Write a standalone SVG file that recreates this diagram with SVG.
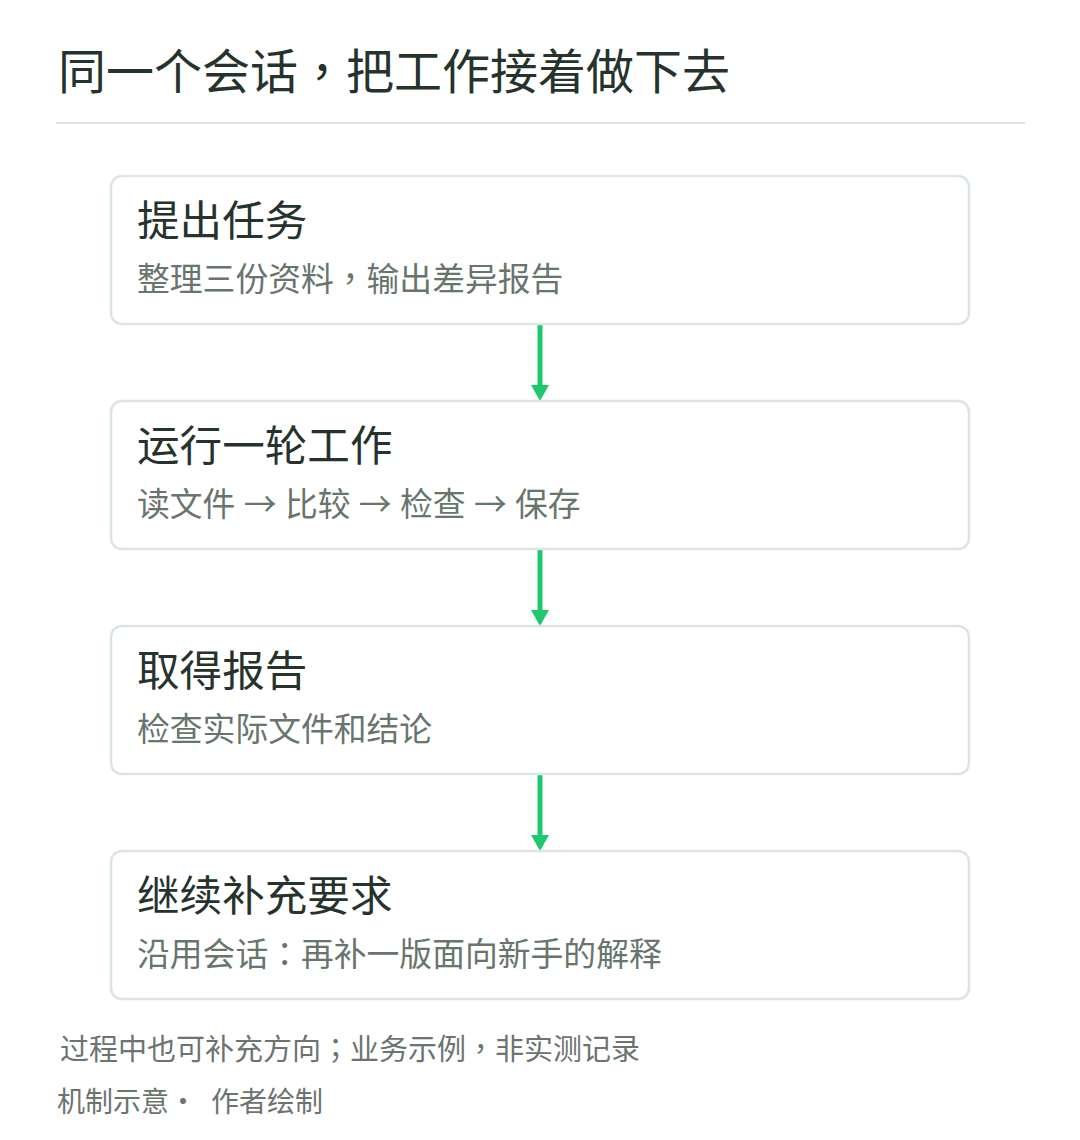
<svg xmlns="http://www.w3.org/2000/svg" width="1080" height="1140" viewBox="0 0 1080 1140">
<defs>
<style>
.cjk{font-family:"Noto Sans CJK SC","Noto Sans",sans-serif;}
.p{font-family:"Noto Sans CJK TC","Noto Sans CJK SC",sans-serif;}
.title{font-size:48px;fill:#26332d;}
.box{fill:#ffffff;stroke:#dbe5e1;stroke-width:2.5;}
.h{font-size:42.6px;fill:#26332d;}
.s{font-size:32.8px;fill:#68756d;}
.f{font-size:29px;fill:#6b746f;}
.conn{stroke:#1ec86e;stroke-width:5;fill:none;}
.head{fill:#1ec86e;}
</style>
</defs>
<rect width="1080" height="1140" fill="#ffffff"/>
<text class="cjk title" x="58" y="89">同一个会话<tspan class="p">，</tspan>把工作接着做下去</text>
<line x1="56" y1="123" x2="1025" y2="123" stroke="#dde5e2" stroke-width="2"/>
<g id="connectors">
<line class="conn" x1="540" y1="325" x2="540" y2="386"/>
<path class="head" d="M531,385 L549,385 L540,401 Z"/>
<line class="conn" x1="540" y1="550" x2="540" y2="611"/>
<path class="head" d="M531,610 L549,610 L540,626 Z"/>
<line class="conn" x1="540" y1="775" x2="540" y2="836"/>
<path class="head" d="M531,835 L549,835 L540,851 Z"/>
</g>
<g id="node1">
<rect class="box" x="111" y="176" width="858" height="148" rx="11"/>
<text class="cjk h" x="137" y="236">提出任务</text>
<text class="cjk s" x="137" y="291">整理三份资料<tspan class="p">，</tspan>输出差异报告</text>
</g>
<g id="node2">
<rect class="box" x="111" y="401" width="858" height="148" rx="11"/>
<text class="cjk h" x="137" y="461">运行一轮工作</text>
<text class="cjk s" x="137" y="516" word-spacing="1">读文件 → 比较 → 检查 → 保存</text>
</g>
<g id="node3">
<rect class="box" x="111" y="626" width="858" height="148" rx="11"/>
<text class="cjk h" x="137" y="686">取得报告</text>
<text class="cjk s" x="137" y="741">检查实际文件和结论</text>
</g>
<g id="node4">
<rect class="box" x="111" y="851" width="858" height="148" rx="11"/>
<text class="cjk h" x="137" y="911">继续补充要求</text>
<text class="cjk s" x="137" y="966">沿用会话<tspan class="p">：</tspan>再补一版面向新手的解释</text>
</g>
<text class="cjk f" x="60" y="1060">过程中也可补充方向<tspan class="p">；</tspan>业务示例<tspan class="p">，</tspan>非实测记录</text>
<text class="cjk f" x="57" y="1112" style="font-size:28px">机制示意·</text>
<text class="cjk f" x="211" y="1112" style="font-size:28px">作者绘制</text>
</svg>
